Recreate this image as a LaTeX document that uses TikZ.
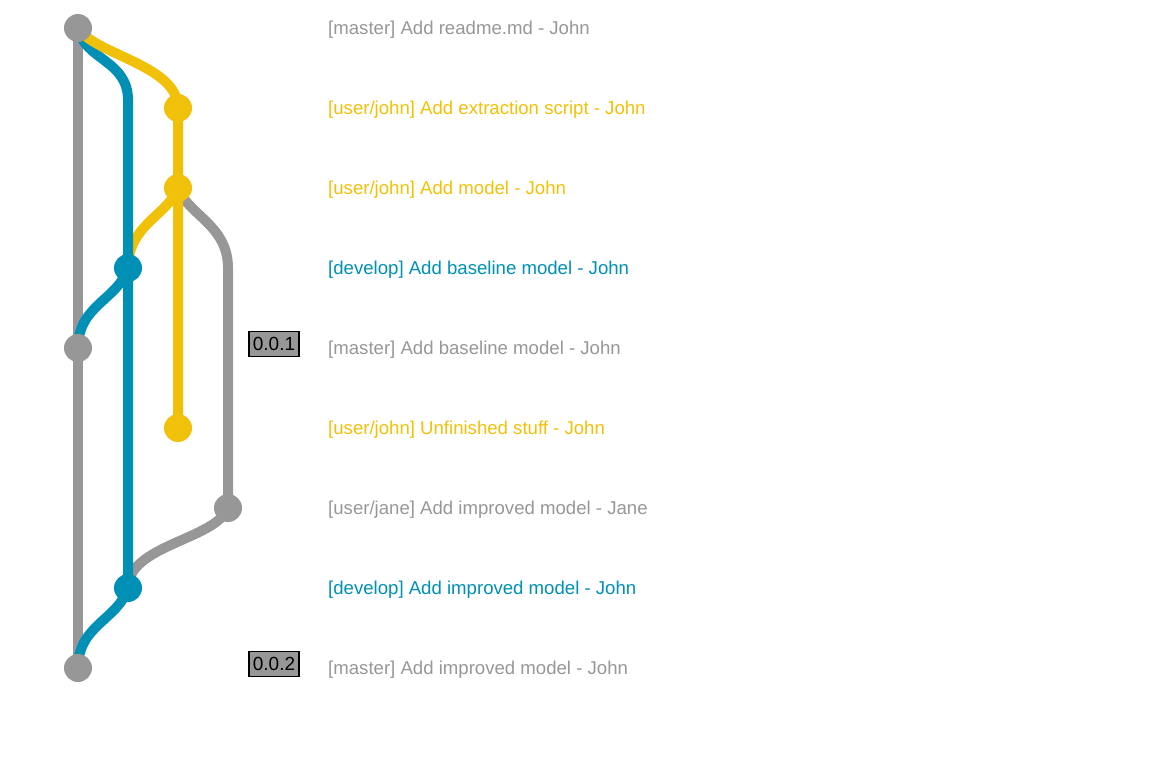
\documentclass[tikz,border=0pt]{standalone}
\usepackage{fontspec}
\setmainfont{Liberation Sans}
\definecolor{gmaster}{HTML}{979797}
\definecolor{gdevelop}{HTML}{008FB5}
\definecolor{gjohn}{HTML}{F1C109}
\begin{document}
\begin{tikzpicture}[x=1pt,y=-1pt,
	commit/.style={circle,fill=#1,minimum size=28pt,inner sep=0pt},
	branch/.style={line width=10pt,draw=#1},
	msg/.style={anchor=west,text=#1,inner sep=0pt,yshift=-2pt,font=\fontsize{18.6}{22}\selectfont},
	tagbox/.style={draw=black,line width=1.5pt,fill=gmaster,minimum width=50pt,minimum height=25pt,inner sep=1pt,font=\fontsize{19}{22}\selectfont}]
	\useasboundingbox (0,0) rectangle (1156,776);
	
	% commits
	\coordinate (c0) at (78,28);
	\coordinate (c1) at (178,108);
	\coordinate (c2) at (178,188);
	\coordinate (c3) at (128,268);
	\coordinate (c4) at (78,348);
	\coordinate (c5) at (178,428);
	\coordinate (c6) at (228,508);
	\coordinate (c7) at (128,588);
	\coordinate (c8) at (78,668);
	
	% branches and merges
	\draw[branch=gmaster](c0)--(c8);
	\draw[branch=gjohn](c2) .. controls (168,215) and (128,225) .. (c3);
	\draw[branch=gmaster](c2) .. controls (188,215) and (228,225) .. (228,268)--(c6);
	\draw[branch=gmaster](c6) .. controls (215,540) and (128,545) .. (c7);
	\draw[branch=gdevelop](c0) .. controls (84,60) and (128,60) .. (128,100)--(c7);
	\draw[branch=gdevelop](c3) .. controls (118,300) and (78,305) .. (c4);
	\draw[branch=gdevelop](c7) .. controls (118,620) and (78,625) .. (c8);
	\draw[branch=gjohn](c0) .. controls (95,55) and (178,65) .. (c1)--(c5);
	
	\node[commit=gmaster] at (c0) {};
	\node[commit=gjohn] at (c1) {};
	\node[commit=gjohn] at (c2) {};
	\node[commit=gdevelop] at (c3) {};
	\node[commit=gmaster] at (c4) {};
	\node[commit=gjohn] at (c5) {};
	\node[commit=gmaster] at (c6) {};
	\node[commit=gdevelop] at (c7) {};
	\node[commit=gmaster] at (c8) {};
	
	% tags
	\node[tagbox] (t1) at (274,344) {0.0.1};
	\node[tagbox] (t2) at (274,664) {0.0.2};
	
	% messages
	\node[msg=gmaster] (l0) at (328,28) {[master] Add readme.md - John};
	\node[msg=gjohn] (l1) at (328,108) {[user/john] Add extraction script - John};
	\node[msg=gjohn] (l2) at (328,188) {[user/john] Add model - John};
	\node[msg=gdevelop] (l3) at (328,268) {[develop] Add baseline model - John};
	\node[msg=gmaster] (l4) at (328,348) {[master] Add baseline model - John};
	\node[msg=gjohn] (l5) at (328,428) {[user/john] Unfinished stuff - John};
	\node[msg=gmaster] (l6) at (328,508) {[user/jane] Add improved model - Jane};
	\node[msg=gdevelop] (l7) at (328,588) {[develop] Add improved model - John};
	\node[msg=gmaster] (l8) at (328,668) {[master] Add improved model - John};
	
\end{tikzpicture}
\end{document}
